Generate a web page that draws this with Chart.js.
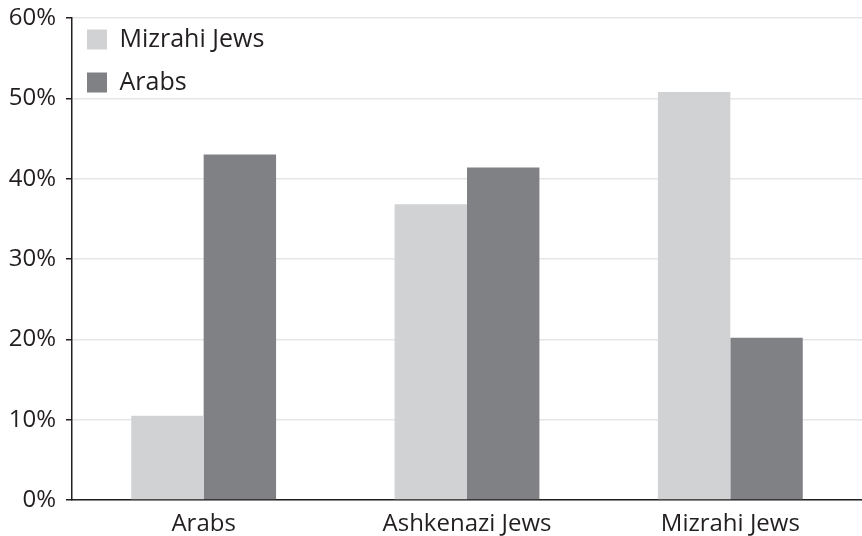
<!DOCTYPE html>
<html>
<head>
<meta charset="utf-8">
<script src="https://cdn.jsdelivr.net/npm/chart.js@4/dist/chart.umd.min.js"></script>
<style>
  html, body { margin: 0; padding: 0; background: #fff; overflow: hidden; }
  #wrap { width: 862px; height: 536px; }
</style>
</head>
<body>
<div id="wrap"><canvas id="graph"></canvas></div>
<script>
// Données du graphique
const categories = ['Arabs', 'Ashkenazi Jews', 'Mizrahi Jews'];
const seriesNames = ['Mizrahi Jews', 'Arabs'];
const mizrahiValues = [10.5, 36.8, 50.8];
const arabValues = [43.0, 41.4, 20.2];
const yTicks = [0, 10, 20, 30, 40, 50, 60];

const texte = '#231f20';
const police = "'Open Sans', 'Liberation Sans', sans-serif";

// Décale la légende (placée dans la zone du graphique)
const decalageLegende = {
  id: 'decalageLegende',
  afterLayout(chart) {
    const lg = chart.legend;
    if (!lg) return;
    lg.top += 9; lg.bottom += 9;
    lg.left -= 3; lg.right -= 3;
  }
};

const ctx = document.getElementById('graph').getContext('2d');
new Chart(ctx, {
  type: 'bar',
  data: {
    labels: categories,
    datasets: [
      {
        label: seriesNames[0],
        data: mizrahiValues,
        backgroundColor: '#d1d2d4',
        categoryPercentage: 0.55,
        barPercentage: 1.0
      },
      {
        label: seriesNames[1],
        data: arabValues,
        backgroundColor: '#808184',
        categoryPercentage: 0.55,
        barPercentage: 1.0
      }
    ]
  },
  plugins: [decalageLegende],
  options: {
    responsive: true,
    maintainAspectRatio: false,
    animation: false,
    layout: { padding: { top: 18, right: 0, left: 0, bottom: 0 } },
    plugins: {
      tooltip: { enabled: false },
      legend: {
        position: 'chartArea',
        align: 'start',
        labels: {
          boxWidth: 20,
          boxHeight: 20,
          padding: 18,
          color: texte,
          font: { family: police, size: 25 }
        }
      }
    },
    scales: {
      x: {
        grid: { display: false, drawTicks: false },
        border: { color: texte, width: 1.5 },
        ticks: {
          color: texte,
          padding: 10,
          font: { family: police, size: 24 }
        },
        afterFit: function(scale) { scale.height = 36; }
      },
      y: {
        min: 0,
        max: 60,
        afterBuildTicks: function(scale) {
          scale.ticks = yTicks.map(v => ({ value: v }));
        },
        grid: {
          color: '#e6e6e6',
          lineWidth: 1.5,
          tickColor: texte,
          tickLength: 6
        },
        border: { color: texte, width: 1.5 },
        ticks: {
          color: texte,
          padding: 10,
          font: { family: police, size: 24 },
          callback: function(value) { return value + '%'; }
        },
        afterFit: function(scale) {
          scale.width = 72;
          scale.paddingTop = 0;
          scale.paddingBottom = 0;
        }
      }
    }
  }
});
</script>
</body>
</html>
